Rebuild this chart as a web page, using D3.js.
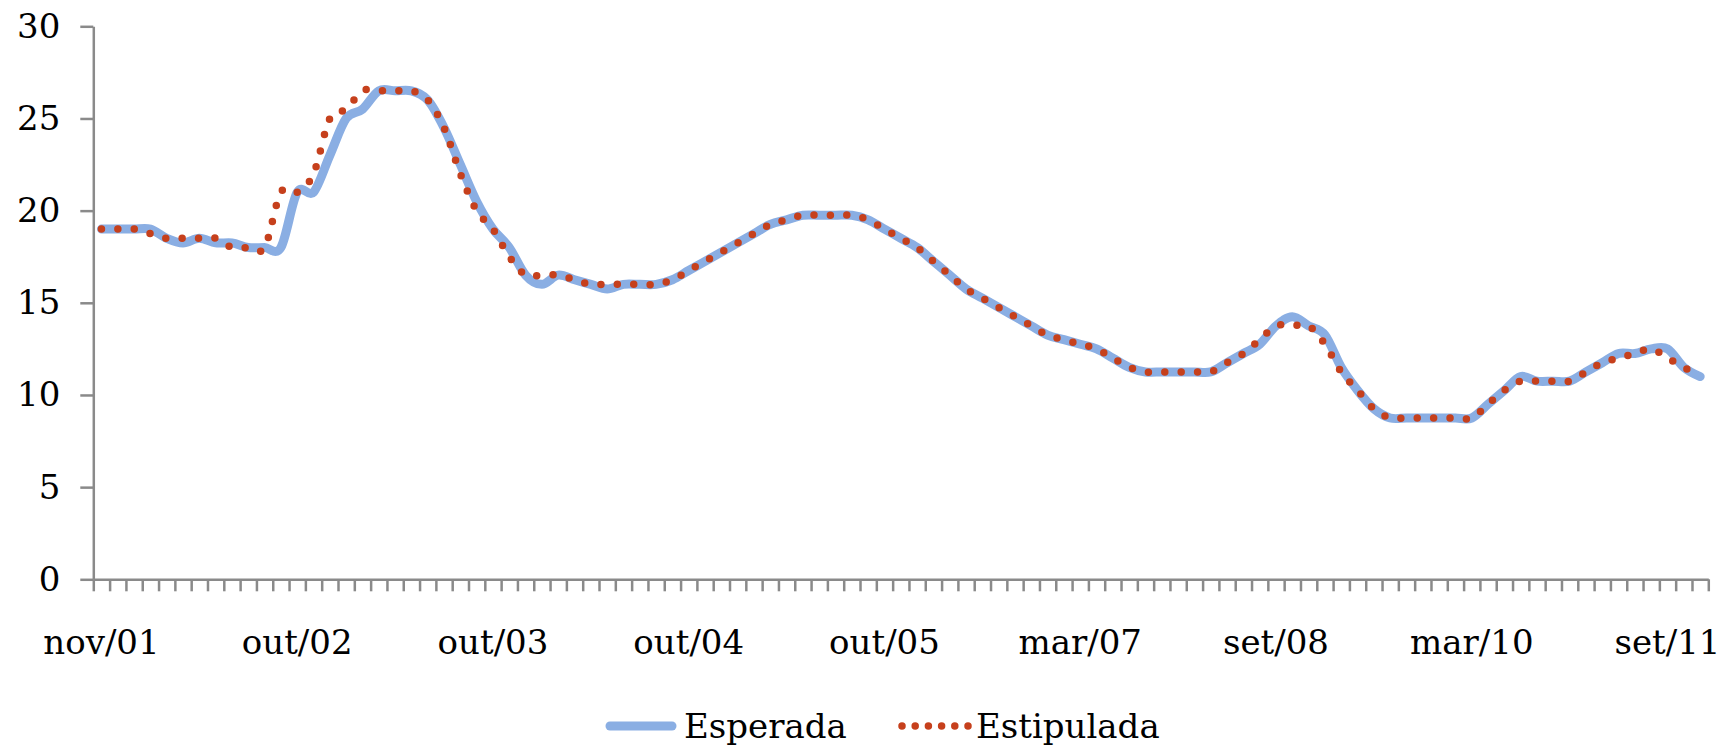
<!DOCTYPE html>
<html>
<head>
<meta charset="utf-8">
<script src="https://cdn.jsdelivr.net/npm/d3@7"></script>
<style>
  html, body { margin: 0; padding: 0; background: #fff; }
  svg { display: block; font-family: "DejaVu Serif", serif; }
</style>
</head>
<body>
<svg id="chart" width="1724" height="746"></svg>
<script>
// ---- Data ----
const categories = [
  "nov/01","dez/01",
  "jan/02","fev/02","mar/02","abr/02","mai/02","jun/02","jul/02","ago/02","set/02","out/02","out/02","nov/02","dez/02",
  "jan/03","fev/03","mar/03","abr/03","mai/03","jun/03","jul/03","ago/03","set/03","out/03","nov/03","dez/03",
  "jan/04","fev/04","mar/04","abr/04","mai/04","jun/04","jul/04","ago/04","set/04","out/04","nov/04","dez/04",
  "jan/05","fev/05","mar/05","abr/05","mai/05","jun/05","jul/05","ago/05","set/05","out/05","nov/05","dez/05",
  "jan/06","mar/06","abr/06","mai/06","jul/06","ago/06","out/06","nov/06",
  "jan/07","mar/07","abr/07","jun/07","jul/07","set/07","out/07","dez/07",
  "jan/08","mar/08","abr/08","jun/08","jul/08","set/08","out/08","dez/08",
  "jan/09","mar/09","abr/09","jun/09","jul/09","set/09","out/09","dez/09",
  "jan/10","mar/10","abr/10","jun/10","jul/10","set/10","out/10","dez/10",
  "jan/11","mar/11","abr/11","jun/11","jul/11","set/11","out/11","nov/11"
];

const estipulada = [
  19, 19,
  19, 18.75, 18.5, 18.5, 18.5, 18.5, 18, 18, 18, 21, 21, 22, 25,
  25.5, 26.5, 26.5, 26.5, 26.5, 26, 24.5, 22, 20, 19, 17.5, 16.5,
  16.5, 16.5, 16.25, 16, 16, 16, 16, 16, 16.25, 16.75, 17.25, 17.75,
  18.25, 18.75, 19.25, 19.5, 19.75, 19.75, 19.75, 19.75, 19.5, 19, 18.5, 18,
  17.25, 16.5, 15.75, 15.25, 14.75, 14.25, 13.75, 13.25,
  13, 12.75, 12.5, 12, 11.5, 11.25, 11.25, 11.25,
  11.25, 11.25, 11.75, 12.25, 13, 13.75, 13.75, 13.75,
  12.75, 11.25, 10.25, 9.25, 8.75, 8.75, 8.75, 8.75,
  8.75, 8.75, 9.5, 10.25, 10.75, 10.75, 10.75, 10.75,
  11.25, 11.75, 12, 12.25, 12.5, 12, 11.5, 11
];

const esperada = [
  19, 19,
  19, 19, 18.5, 18.25, 18.5, 18.25, 18.25, 18, 18, 18, 21, 21, 23,
  25, 25.5, 26.5, 26.5, 26.5, 26, 24.5, 22.5, 20.5, 19, 18, 16.5,
  16, 16.5, 16.25, 16, 15.75, 16, 16, 16, 16.25, 16.75, 17.25, 17.75,
  18.25, 18.75, 19.25, 19.5, 19.75, 19.75, 19.75, 19.75, 19.5, 19, 18.5, 18,
  17.25, 16.5, 15.75, 15.25, 14.75, 14.25, 13.75, 13.25,
  13, 12.75, 12.5, 12, 11.5, 11.25, 11.25, 11.25,
  11.25, 11.25, 11.75, 12.25, 12.75, 13.75, 14.25, 13.75,
  13.25, 11.5, 10.25, 9.25, 8.75, 8.75, 8.75, 8.75,
  8.75, 8.75, 9.5, 10.25, 11, 10.75, 10.75, 10.75,
  11.25, 11.75, 12.25, 12.25, 12.5, 12.5, 11.5, 11
];

const yTicks = [0, 5, 10, 15, 20, 25, 30];
const labelEvery = 12;
const seriesNames = ["Esperada", "Estipulada"];

// ---- Layout ----
const plotLeft = 93.3, plotRight = 1708.3, plotTop = 26.3, plotBottom = 579.3;
const axisColor = "#8a8a8a";
const blue = "#8aaee3";
const red = "#c6401c";
const fontSize = 34;

const svg = d3.select("#chart");

const x = d3.scaleBand().domain(d3.range(categories.length)).range([plotLeft, plotRight]).padding(0);
const xEdge = d3.scaleLinear().domain([0, categories.length]).range([plotLeft, plotRight]);
const y = d3.scaleLinear().domain([0, 30]).range([plotBottom, plotTop]);
const cx = i => x(i) + x.bandwidth() / 2;

// Y axis
const yAxis = svg.append("g")
  .attr("transform", `translate(${plotLeft},0)`)
  .call(d3.axisLeft(y).tickValues(yTicks).tickSize(13).tickPadding(20).tickSizeOuter(0));
yAxis.select(".domain").attr("stroke", axisColor).attr("stroke-width", 2.5);
yAxis.selectAll(".tick line").attr("stroke", axisColor).attr("stroke-width", 2.5);
yAxis.selectAll(".tick text").attr("fill", "#000").style("font-size", fontSize + "px")
  .style("font-family", "DejaVu Serif, serif");

// X axis boundary ticks
const xTickAxis = svg.append("g")
  .attr("transform", `translate(0,${plotBottom})`)
  .call(d3.axisBottom(xEdge).tickValues(d3.range(categories.length + 1)).tickFormat("").tickSize(12).tickSizeOuter(0));
xTickAxis.select(".domain").attr("stroke", axisColor).attr("stroke-width", 2.5);
xTickAxis.selectAll(".tick line").attr("stroke", axisColor).attr("stroke-width", 2.5);

// X axis labels
const xLabelAxis = svg.append("g")
  .attr("transform", `translate(0,${plotBottom})`)
  .call(d3.axisBottom(x)
    .tickValues(d3.range(0, categories.length, labelEvery))
    .tickFormat(i => categories[i])
    .tickSize(0).tickPadding(51));
xLabelAxis.select(".domain").remove();
xLabelAxis.selectAll(".tick text").attr("fill", "#000").style("font-size", fontSize + "px")
  .style("font-family", "DejaVu Serif, serif");

// Lines
const line = d3.line()
  .x((d, i) => cx(i))
  .y(d => y(d))
  .curve(d3.curveCardinal.tension(0));

svg.append("path")
  .datum(esperada)
  .attr("d", line)
  .attr("fill", "none")
  .attr("stroke", blue)
  .attr("stroke-width", 9)
  .attr("stroke-linecap", "round")
  .attr("stroke-linejoin", "round");

svg.append("path")
  .datum(estipulada)
  .attr("d", line)
  .attr("fill", "none")
  .attr("stroke", red)
  .attr("stroke-width", 7.5)
  .attr("stroke-linecap", "round")
  .attr("stroke-dasharray", "0 16.4");

// Legend
const lg = svg.append("g");
lg.append("line").attr("x1", 610).attr("x2", 672).attr("y1", 726).attr("y2", 726)
  .attr("stroke", blue).attr("stroke-width", 9).attr("stroke-linecap", "round");
lg.append("text").attr("x", 684).attr("y", 738).text(seriesNames[0])
  .style("font-size", fontSize + "px").attr("fill", "#000");
lg.append("line").attr("x1", 902).attr("x2", 968).attr("y1", 726).attr("y2", 726)
  .attr("stroke", red).attr("stroke-width", 7.5).attr("stroke-linecap", "round")
  .attr("stroke-dasharray", "0 13.2");
lg.append("text").attr("x", 976).attr("y", 738).text(seriesNames[1])
  .style("font-size", fontSize + "px").attr("fill", "#000");
</script>
</body>
</html>
